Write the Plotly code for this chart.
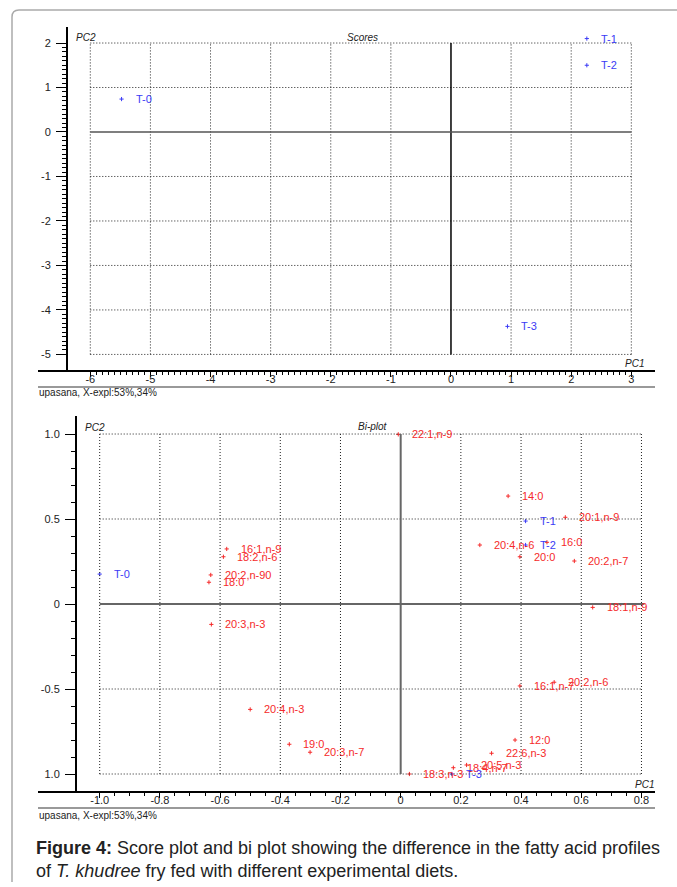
import plotly.graph_objects as go

W, H = 677, 887

# ---------------- data ----------------
score_labels = ["T-0", "T-1", "T-2", "T-3"]
score_pc1 = [-5.48, 2.26, 2.26, 0.94]
score_pc2 = [0.74, 2.10, 1.50, -4.37]

var_labels = ["22:1,n-9", "14:0", "20:1,n-9", "16:1,n-9", "18:2,n-6", "20:4,n-6", "16:0",
              "20:0", "20:2,n-90", "18:0", "20:2,n-7", "18:1,n-9", "20:3,n-3", "16:1,n-7",
              "20:2,n-6", "20:4,n-3", "12:0", "19:0", "22:6,n-3", "20:3,n-7", "20:5,n-3",
              "18:4,n-7", "18:3,n-3"]
var_pc1 = [-0.008, 0.357, 0.547, -0.578, -0.589, 0.263, 0.486, 0.396, -0.631, -0.637, 0.577,
           0.638, -0.629, 0.396, 0.510, -0.500, 0.380, -0.370, 0.302, -0.301, 0.219, 0.175, 0.029]
var_pc2 = [0.998, 0.635, 0.510, 0.324, 0.278, 0.347, 0.363, 0.278, 0.171, 0.128, 0.253,
           -0.020, -0.120, -0.482, -0.460, -0.620, -0.800, -0.825, -0.878, -0.872, -0.947,
           -0.963, -1.000]

bi_obj_labels = ["T-0", "T-1", "T-2", "T-3"]
bi_obj_pc1 = [-1.0, 0.415, 0.415, 0.17]
bi_obj_pc2 = [0.176, 0.488, 0.347, -1.0]

top_xticks = [-6, -5, -4, -3, -2, -1, 0, 1, 2, 3]
top_xticktext = ["-6", "-5", "-4", "-3", "-2", "-1", "0", "1", "2", "3"]
top_yticks = [-5, -4, -3, -2, -1, 0, 1, 2]
top_yticktext = ["-5", "-4", "-3", "-2", "-1", "0", "1", "2"]
bot_xticks = [-1.0, -0.8, -0.6, -0.4, -0.2, 0.0, 0.2, 0.4, 0.6, 0.8]
bot_xticktext = ["-1.0", "-0.8", "-0.6", "-0.4", "-0.2", "0", "0.2", "0.4", "0.6", "0.8"]
bot_yticks = [-1.0, -0.5, 0.0, 0.5, 1.0]
bot_yticktext = ["1.0", "-0.5", "0", "0.5", "1.0"]

BLUE = "#3b3bf5"
RED = "#f52a2a"
FONT = "Liberation Sans, Arial, sans-serif"


def minor_vals(ticks, step):
    out = []
    for a, b in zip(ticks[:-1], ticks[1:]):
        v = a + step
        while v < b - 1e-9:
            out.append(round(v, 4))
            v += step
    return out


def px_x(p):
    return p / W


def px_y(p):
    return 1 - p / H


fig = go.Figure()

mk = lambda c: dict(symbol="cross-thin", size=3, line=dict(width=1, color=c), color=c)

fig.add_trace(go.Scatter(x=score_pc1, y=score_pc2, mode="markers", xaxis="x", yaxis="y",
                         marker=mk(BLUE), showlegend=False, hoverinfo="skip"))
fig.add_trace(go.Scatter(x=var_pc1, y=var_pc2, mode="markers", xaxis="x2", yaxis="y2",
                         marker=mk(RED), showlegend=False, hoverinfo="skip"))
fig.add_trace(go.Scatter(x=bi_obj_pc1, y=bi_obj_pc2, mode="markers", xaxis="x2", yaxis="y2",
                         marker=mk(BLUE), showlegend=False, hoverinfo="skip"))

ann = []
for x, y, t in zip(score_pc1, score_pc2, score_labels):
    ann.append(dict(x=x, y=y, xref="x", yref="y", text=t, showarrow=False, xanchor="left",
                    yanchor="middle", xshift=12, font=dict(size=11, color=BLUE, family=FONT)))
for x, y, t in zip(var_pc1, var_pc2, var_labels):
    ann.append(dict(x=x, y=y, xref="x2", yref="y2", text=t, showarrow=False, xanchor="left",
                    yanchor="middle", xshift=12, font=dict(size=11, color=RED, family=FONT)))
for x, y, t in zip(bi_obj_pc1, bi_obj_pc2, bi_obj_labels):
    ann.append(dict(x=x, y=y, xref="x2", yref="y2", text=t, showarrow=False, xanchor="left",
                    yanchor="middle", xshift=12, font=dict(size=11, color=BLUE, family=FONT)))


def ptext(x, y, t, size=10, italic=True, anchor="left", color="#222"):
    txt = "<i>%s</i>" % t if italic else t
    ann.append(dict(x=px_x(x), y=px_y(y), xref="paper", yref="paper", text=txt, showarrow=False,
                    xanchor=anchor, yanchor="middle", font=dict(size=size, color=color, family=FONT)))


ptext(74, 37, "PC2")
ptext(345, 37, "Scores")
ptext(646, 363, "PC1", anchor="right")
ptext(37, 393, "upasana, X-expl:53%,34%", size=10, italic=False)
ptext(83, 427, "PC2")
ptext(356, 426, "Bi-plot")
ptext(656, 784, "PC1", anchor="right")
ptext(37, 815, "upasana, X-expl:53%,34%", size=10, italic=False)

ann.append(dict(x=px_x(34), y=px_y(836), xref="paper", yref="paper", showarrow=False,
                xanchor="left", yanchor="top", align="left",
                text="<b>Figure 4:</b> Score plot and bi plot showing the difference in the fatty acid profiles<br>"
                     "of <i>T. khudree</i> fry fed with different experimental diets.",
                font=dict(size=18, color="#222", family=FONT)))

shapes = []
DOT = dict(color="#222", width=1, dash="1px,2px")
for v in top_xticks:
    if v == 0:
        continue
    shapes.append(dict(type="line", xref="x", yref="y", x0=v, x1=v, y0=top_yticks[0], y1=top_yticks[-1], line=DOT))
for v in top_yticks:
    if v == 0:
        continue
    shapes.append(dict(type="line", xref="x", yref="y", y0=v, y1=v, x0=top_xticks[0], x1=top_xticks[-1], line=DOT))
shapes.append(dict(type="line", xref="x", yref="y", x0=0, x1=0, y0=top_yticks[0], y1=top_yticks[-1],
                   line=dict(color="black", width=1.5)))
shapes.append(dict(type="line", xref="x", yref="y", y0=0, y1=0, x0=top_xticks[0], x1=top_xticks[-1],
                   line=dict(color="#555", width=1.5)))
for v in bot_xticks:
    if v == 0:
        continue
    shapes.append(dict(type="line", xref="x2", yref="y2", x0=v, x1=v, y0=bot_yticks[0], y1=bot_yticks[-1], line=DOT))
for v in bot_yticks:
    if v == 0:
        continue
    shapes.append(dict(type="line", xref="x2", yref="y2", y0=v, y1=v, x0=bot_xticks[0], x1=bot_xticks[-1], line=DOT))
shapes.append(dict(type="line", xref="x2", yref="y2", x0=0, x1=0, y0=bot_yticks[0], y1=bot_yticks[-1],
                   line=dict(color="#666", width=2)))
shapes.append(dict(type="line", xref="x2", yref="y2", y0=0, y1=0, x0=bot_xticks[0], x1=bot_xticks[-1] + 0.01,
                   line=dict(color="#666", width=2)))
for yy in (387, 808):
    shapes.append(dict(type="line", xref="paper", yref="paper", x0=px_x(38), x1=px_x(655),
                       y0=px_y(yy), y1=px_y(yy), line=dict(color="#777", width=1.5)))
# page border (left + top, rounded corner)
shapes.append(dict(type="line", xref="paper", yref="paper", x0=px_x(12), x1=px_x(12),
                   y0=px_y(882), y1=px_y(17), line=dict(color="#aaa", width=1.5)))
shapes.append(dict(type="line", xref="paper", yref="paper", x0=px_x(19), x1=1.0,
                   y0=px_y(10), y1=px_y(10), line=dict(color="#aaa", width=1.5)))
shapes.append(dict(type="path", xref="paper", yref="paper",
                   path="M%.5f,%.5fQ%.5f,%.5f %.5f,%.5f" % (px_x(12), px_y(17), px_x(12), px_y(10),
                                                          px_x(19), px_y(10)),
                   line=dict(color="#aaa", width=1.5)))

axis_common = dict(showgrid=False, zeroline=False, showline=True, linecolor="black",
                   ticks="outside", tickcolor="black",
                   tickfont=dict(size=11, color="#222", family=FONT), fixedrange=True)

fig.update_layout(
    width=W, height=H, margin=dict(l=0, r=0, t=0, b=0),
    paper_bgcolor="white", plot_bgcolor="white",
    xaxis=dict(domain=[px_x(38), px_x(655)], range=[-6.87, 3.394], anchor="y",
               tickmode="array", tickvals=top_xticks, ticktext=top_xticktext, ticklen=5, linewidth=1.5,
               ticklabelstandoff=-7,
               minor=dict(tickmode="array", tickvals=minor_vals(top_xticks, 0.1), ticklen=3,
                          tickcolor="black", showgrid=False),
               **axis_common),
    yaxis=dict(domain=[px_y(370), px_y(27)], range=[-5.35, 2.36], anchor="free", position=px_x(67),
               tickmode="array", tickvals=top_yticks, ticktext=top_yticktext, ticklen=10, linewidth=2,
               ticklabelstandoff=3,
               minor=dict(tickmode="array", tickvals=minor_vals(top_yticks, 0.1), ticklen=4,
                          tickcolor="black", showgrid=False),
               **axis_common),
    xaxis2=dict(domain=[px_x(38), px_x(655)], range=[-1.205, 0.845], anchor="y2",
                tickmode="array", tickvals=bot_xticks, ticktext=bot_xticktext, ticklen=5, linewidth=1.5,
                ticklabelstandoff=-7,
                minor=dict(tickmode="array", tickvals=minor_vals(bot_xticks, 0.05), ticklen=3,
                           tickcolor="black", showgrid=False),
                **axis_common),
    yaxis2=dict(domain=[px_y(791), px_y(416)], range=[-1.1, 1.106], anchor="free", position=px_x(76),
                tickmode="array", tickvals=bot_yticks, ticktext=bot_yticktext, ticklen=10, linewidth=2,
                ticklabelstandoff=3,
                minor=dict(tickmode="array", tickvals=minor_vals(bot_yticks, 0.1), ticklen=4,
                           tickcolor="black", showgrid=False),
                **axis_common),
    annotations=ann,
    shapes=shapes,
)

fig.write_html("out.html", config={"displayModeBar": False},
               post_script="document.body.style.margin='0';document.body.style.overflow='hidden';")
